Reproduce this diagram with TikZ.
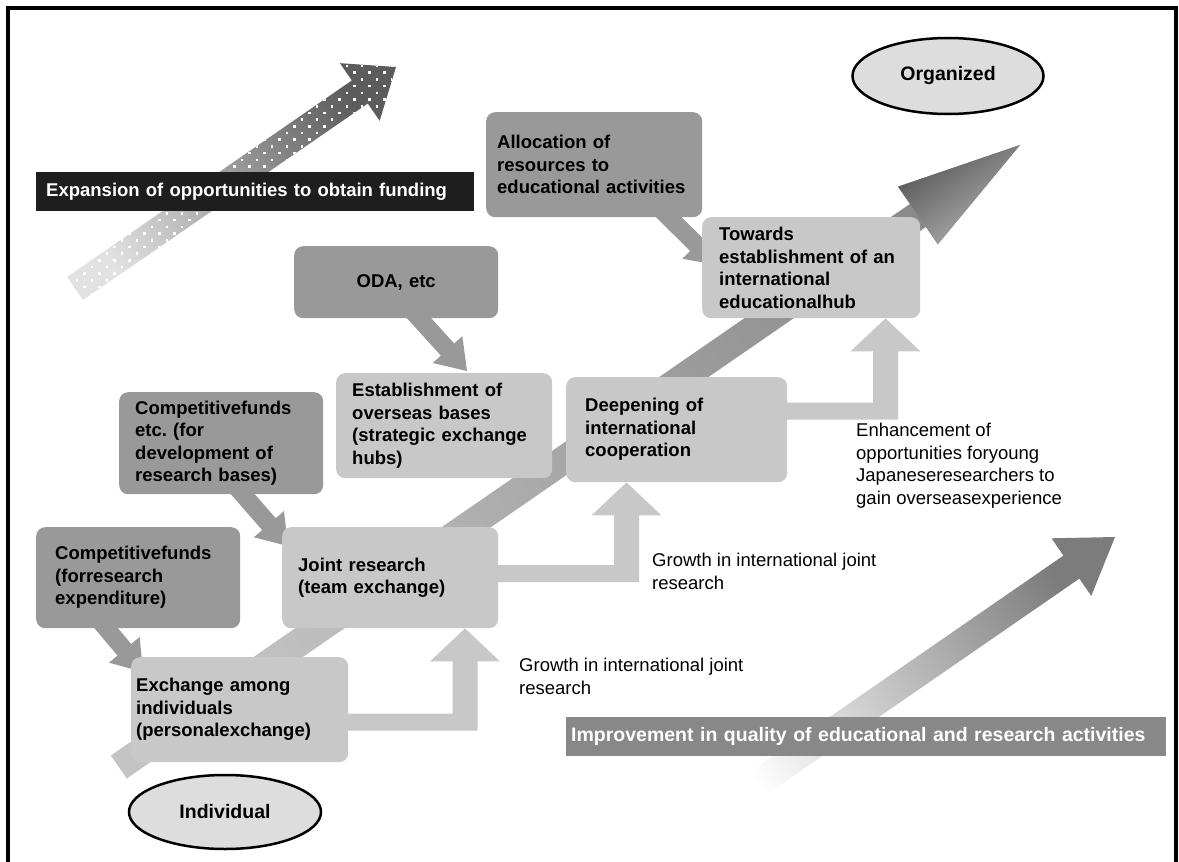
\documentclass[tikz,border=0pt]{standalone}
\usepackage{fontspec}
\setmainfont{Liberation Sans}
\usetikzlibrary{calc,shapes.geometric}
\hyphenpenalty=10000
\exhyphenpenalty=10000
\frenchspacing
\definecolor{boxdark}{HTML}{999999}
\definecolor{boxlight}{HTML}{C8C8C8}
\definecolor{ellgray}{HTML}{DDDDDD}
\definecolor{labelblack}{HTML}{1E1E1E}
\definecolor{labelgray}{HTML}{888888}
\definecolor{expTail}{HTML}{E2E2E2}
\definecolor{expHead}{HTML}{5C5C5C}
\definecolor{cenTail}{HTML}{C4C4C4}
\definecolor{cenHead}{HTML}{8A8A8A}
\definecolor{cenHeadDark}{HTML}{555555}
\definecolor{cenHeadLight}{HTML}{B4B4B4}
\definecolor{lowTail}{HTML}{FFFFFF}
\definecolor{lowHead}{HTML}{7C7C7C}

\pgfdeclarelayer{back}
\pgfdeclarelayer{mid}
\pgfsetlayers{back,mid,main}

% #1 style, #2 tail centre, #3 tip, #4 shaft half width, #5 head half width, #6 head length
\newcommand{\fatarrow}[6]{%
  \coordinate (fatB) at ($(#3)!#6!(#2)$);
  \path[#1] ($(#2)!#4!90:(#3)$) -- ($(fatB)!#4!90:(#3)$) -- ($(fatB)!#5!90:(#3)$) -- (#3)
    -- ($(fatB)!#5!-90:(#3)$) -- ($(fatB)!#4!-90:(#3)$) -- ($(#2)!#4!-90:(#3)$) -- cycle;}

% #1 style, #2 start of horizontal band, #3 tip
\newcommand{\elbowarrow}[3]{%
  \path[#1] let \p1=(#2), \p2=(#3) in
   (\x1,\y1+8.5pt) -- (\x2-12.5pt,\y1+8.5pt) -- (\x2-12.5pt,\y2-33pt) -- (\x2-35pt,\y2-33pt) -- (\x2,\y2)
   -- (\x2+35pt,\y2-33pt) -- (\x2+12.5pt,\y2-33pt) -- (\x2+12.5pt,\y1-8.5pt) -- (\x1,\y1-8.5pt) -- cycle;}

\tikzset{
  boxbase/.style={rectangle, rounded corners=9pt, anchor=north west, align=left,
    font=\bfseries\fontsize{18.5}{22.5}\selectfont, inner ysep=0pt},
  darkbox/.style={boxbase, fill=boxdark},
  lightbox/.style={boxbase, fill=boxlight},
  pointer/.style={fill=boxdark},
  elbow/.style={fill=boxlight},
  oval/.style={ellipse, draw=black, line width=2.5pt, fill=ellgray,
    font=\bfseries\fontsize{19.5}{23}\selectfont, inner sep=0pt},
  note/.style={anchor=north west, align=left, inner sep=0pt, font=\fontsize{18.5}{22.5}\selectfont},
  banner/.style={anchor=north west, align=left, text=white,
    font=\bfseries\fontsize{18.5}{22}\selectfont, inner ysep=0pt},
}

\begin{document}
\begin{tikzpicture}[x=1pt,y=-1pt]
\useasboundingbox (0,0) rectangle (1179,862);

% ---------- boxes ----------
\node[darkbox, minimum width=216pt, minimum height=105pt, text width=194pt, inner xsep=11pt] (alloc) at (486,112)
  {Allocation of\\resources to\\educational activities};
\node[lightbox, minimum width=218pt, minimum height=101pt, text width=184pt, inner xsep=17pt] (towards) at (702,217)
  {Towards\\establishment of an\\international\\educationalhub};
\node[darkbox, align=center, minimum width=204pt, minimum height=72pt, text width=184pt, inner xsep=10pt] (oda) at (294,246)
  {ODA, etc};
\node[lightbox, minimum width=216pt, minimum height=105pt, text width=184pt, inner xsep=16pt] (estab) at (336,373)
  {Establishment of\\overseas bases\\(strategic exchange\\hubs)};
\node[lightbox, minimum width=221pt, minimum height=105pt, text width=183pt, inner xsep=19pt] (deep) at (566,377)
  {Deepening of\\international\\cooperation};
\node[darkbox, minimum width=204pt, minimum height=102pt, text width=172pt, inner xsep=16pt] (competc) at (119,392)
  {Competitivefunds\\etc. (for\\development of\\research bases)};
\node[lightbox, minimum width=216pt, minimum height=101pt, text width=184pt, inner xsep=16pt] (joint) at (282,527)
  {Joint research\\(team exchange)};
\node[darkbox, minimum width=204pt, minimum height=101pt, text width=166pt, inner xsep=19pt] (compexp) at (36,527)
  {Competitivefunds\\(forresearch\\expenditure)};
\node[lightbox, minimum width=217pt, minimum height=105pt, text width=207pt, inner xsep=5pt] (exch) at (131,657)
  {Exchange among\\individuals\\(personalexchange)};

% ---------- ellipses ----------
\node[oval, minimum width=191pt, minimum height=76pt] (org) at (948,76) {Organized};
\node[oval, minimum width=192pt, minimum height=74pt] (indiv) at (225,812) {Individual};

% ---------- free labels ----------
\node[note] (growthA) at (652,553) {Growth in international joint\\research};
\node[note] (growthB) at (519,658) {Growth in international joint\\research};
\node[note] (enhance) at (856,423) {Enhancement of\\opportunities foryoung\\Japaneseresearchers to\\gain overseasexperience};

% ---------- background layer: frame, big arrows, banners ----------
\begin{pgfonlayer}{back}
  \draw[line width=3.5pt] (8,862) -- (8,8) -- (1176,8) -- (1176,862);

  \coordinate (expS) at (75,288.5);
  \coordinate (expT) at (396,67);
  \fatarrow{left color=expTail, right color=expHead, shading angle=124.6}{expS}{expT}{14pt}{35pt}{44pt}
  \begin{scope}
    \fatarrow{clip}{expS}{expT}{14pt}{35pt}{44pt}
    \foreach \j in {0,...,37}{\foreach \i in {0,...,23}{
      \fill[white] ({38+15*\i+7.5*mod(\j,2)},{58+6.7*\j}) rectangle ++(2.6,2.6);}}
  \end{scope}
  \node[banner, fill=labelblack, minimum width=438pt, minimum height=39pt, text width=418pt, inner xsep=10pt] (expl) at (36,172)
    {Expansion of opportunities to obtain funding};

  \coordinate (cenS) at (118.8,767);
  \coordinate (cenT) at (1020,145);
  \fatarrow{left color=cenTail, right color=cenHead, shading angle=124.6}{cenS}{cenT}{14pt}{35pt}{124pt}
  \shade[top color=cenHeadDark, bottom color=cenHeadLight, shading angle=34.6]
    ($(fatB)!35pt!90:(cenT)$) -- (cenT) -- ($(fatB)!35pt!-90:(cenT)$) -- cycle;

  \coordinate (lowS) at (707.6,818.2);
  \coordinate (lowT) at (1115,537);
  \fatarrow{left color=lowTail, right color=lowHead, shading angle=124.6}{lowS}{lowT}{14pt}{35pt}{53pt}
  \node[banner, fill=labelgray, minimum width=600pt, minimum height=39pt, text width=590pt, inner xsep=5pt,
    font=\bfseries\fontsize{19.5}{22}\selectfont] (impl) at (566,717)
    {Improvement in quality of educational and research activities};
\end{pgfonlayer}

% ---------- connectors ----------
\begin{pgfonlayer}{mid}
  \coordinate (p1s) at ($(alloc.south west)+(176,-7)$);
  \coordinate (p1t) at ($(towards.north west)+(15,48)$);
  \fatarrow{pointer}{p1s}{p1t}{9pt}{20pt}{29pt}
  \coordinate (p2s) at ($(oda.south west)+(118,-8)$);
  \coordinate (p2t) at ($(estab.north west)+(131,-2)$);
  \fatarrow{pointer}{p2s}{p2t}{9pt}{20pt}{29pt}
  \coordinate (p3s) at ($(competc.south west)+(117,-8)$);
  \coordinate (p3t) at ($(joint.north west)+(6,19)$);
  \fatarrow{pointer}{p3s}{p3t}{9pt}{20pt}{29pt}
  \coordinate (p4s) at ($(compexp.south west)+(62,-10)$);
  \coordinate (p4t) at ($(exch.north west)+(12,15)$);
  \fatarrow{pointer}{p4s}{p4t}{9pt}{20pt}{29pt}

  \coordinate (e1s) at ($(exch.east)+(-8,12.5)$);
  \coordinate (e1t) at ($(joint.south west)+(183,0)$);
  \elbowarrow{elbow}{e1s}{e1t}
  \coordinate (e2s) at ($(joint.east)+(-8,-4)$);
  \coordinate (e2t) at ($(deep.south west)+(60.5,0)$);
  \elbowarrow{elbow}{e2s}{e2t}
  \coordinate (e3s) at ($(deep.east)+(-8,-18.5)$);
  \coordinate (e3t) at ($(towards.south west)+(183.5,0)$);
  \elbowarrow{elbow}{e3s}{e3t}
\end{pgfonlayer}
\end{tikzpicture}
\end{document}
